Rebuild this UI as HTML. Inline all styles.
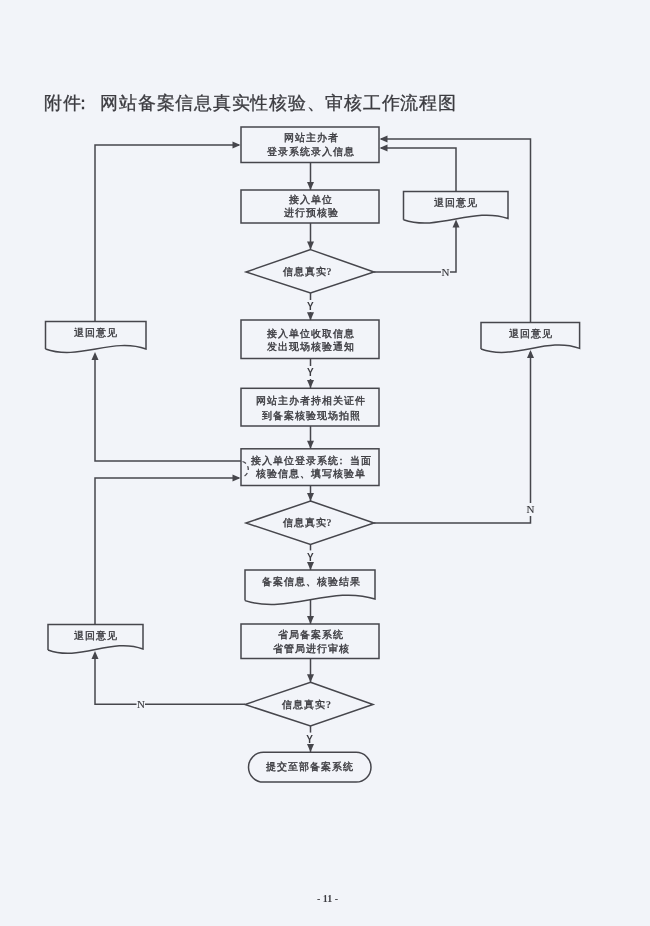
<!DOCTYPE html>
<html><head><meta charset="utf-8"><style>
html,body{margin:0;padding:0;background:#f2f4f9;}
body{width:650px;height:926px;overflow:hidden;position:relative;}
svg{position:absolute;left:0;top:0;}
.wrap{position:absolute;left:0;top:0;width:650px;height:926px;filter:blur(0.25px);}
.l{fill:none;stroke:#46464c;stroke-width:1.5;}
.a{fill:#46464c;stroke:none;}
.t{font-family:"Liberation Serif",serif;font-weight:normal;stroke:#3c3c41;stroke-width:0.4px;fill:#3c3c41;text-anchor:middle;}
.y{font-family:"Liberation Serif",serif;fill:#3c3c41;text-anchor:middle;dominant-baseline:central;}
.title{position:absolute;left:44px;top:90.5px;font-family:"Liberation Sans",sans-serif;font-size:18px;letter-spacing:0.75px;-webkit-text-stroke:0.3px #3c3c41;color:#3c3c41;white-space:nowrap;}
.yy{font-family:"Liberation Sans",sans-serif;font-size:10px;font-weight:bold;fill:#3c3c41;text-anchor:middle;}
.nn{font-family:"Liberation Serif",serif;font-size:11px;fill:#3c3c41;text-anchor:middle;stroke:#3c3c41;stroke-width:0.15px;}
.pg{position:absolute;left:2.5px;width:650px;top:893px;text-align:center;font-family:"Liberation Serif",serif;font-size:10px;font-weight:bold;color:#3c3c41;}
</style></head><body>
<div class="wrap">
<div class="title">附件<span style="position:relative;left:-8px">：</span>网站备案信息真实性核验、审核工作流程图</div>
<svg width="650" height="926" viewBox="0 0 650 926">
<rect x="241" y="127" width="138" height="35.5" class="l"/>
<text x="311.0" y="141.30" class="t" style="font-size:10px;letter-spacing:1px">网站主办者</text>
<text x="311.0" y="155.30" class="t" style="font-size:10px;letter-spacing:1px">登录系统录入信息</text>
<path d="M310.5,162.5 L310.5,190" class="l"/>
<path d="M310.5,190 L307.0,182 L314.0,182 Z" class="a"/>
<rect x="241" y="190" width="138" height="33" class="l"/>
<text x="311.0" y="202.90" class="t" style="font-size:10px;letter-spacing:1px">接入单位</text>
<text x="311.0" y="215.70" class="t" style="font-size:10px;letter-spacing:1px">进行预核验</text>
<path d="M310.5,223 L310.5,249.6" class="l"/>
<path d="M310.5,249.6 L307.0,241.6 L314.0,241.6 Z" class="a"/>
<path d="M310.5,249.6 L374,272 L310.5,293 L246,272 Z" class="l"/>
<text x="282.5" y="275.30" class="t" style="font-size:10px;letter-spacing:1px;text-anchor:start">信息真实<tspan style="font-family:Liberation Serif;font-weight:bold;stroke-width:0.1px">?</tspan></text>
<path d="M310.5,293 L310.5,300" class="l"/>
<text x="310.3" y="310.45" class="yy">Y</text>
<path d="M310.5,312 L310.5,320" class="l"/>
<path d="M310.5,320.3 L307.0,312.3 L314.0,312.3 Z" class="a"/>
<rect x="241" y="320" width="138" height="38.5" class="l"/>
<text x="311.0" y="336.70" class="t" style="font-size:10px;letter-spacing:1px">接入单位收取信息</text>
<text x="311.0" y="350.30" class="t" style="font-size:10px;letter-spacing:1px">发出现场核验通知</text>
<path d="M310.5,358.5 L310.5,366" class="l"/>
<text x="310.3" y="376.40" class="yy">Y</text>
<path d="M310.5,379 L310.5,388.3" class="l"/>
<path d="M310.5,388 L307.0,380 L314.0,380 Z" class="a"/>
<rect x="241" y="388.3" width="138" height="37.69999999999999" class="l"/>
<text x="311.0" y="403.90" class="t" style="font-size:10px;letter-spacing:1px">网站主办者持相关证件</text>
<text x="311.0" y="418.70" class="t" style="font-size:10px;letter-spacing:1px">到备案核验现场拍照</text>
<path d="M310.5,426 L310.5,448.8" class="l"/>
<path d="M310.5,448.8 L307.0,440.8 L314.0,440.8 Z" class="a"/>
<rect x="241" y="448.8" width="138" height="36.69999999999999" class="l"/>
<text x="311.0" y="463.80" class="t" style="font-size:10px;letter-spacing:1px">接入单位登录系统<tspan dx="-3">：</tspan><tspan dx="3">当面</tspan></text>
<text x="311.0" y="477.30" class="t" style="font-size:10px;letter-spacing:1px">核验信息、填写核验单</text>
<path d="M310.5,485.5 L310.5,501" class="l"/>
<path d="M310.5,501 L307.0,493 L314.0,493 Z" class="a"/>
<path d="M310.5,501 L374,523 L310.5,544.5 L246,523 Z" class="l"/>
<text x="282.5" y="526.30" class="t" style="font-size:10px;letter-spacing:1px;text-anchor:start">信息真实<tspan style="font-family:Liberation Serif;font-weight:bold;stroke-width:0.1px">?</tspan></text>
<path d="M310.5,544.5 L310.5,550.4" class="l"/>
<text x="310.3" y="560.70" class="yy">Y</text>
<path d="M310.5,563 L310.5,570" class="l"/>
<path d="M310.5,570 L307.0,562 L314.0,562 Z" class="a"/>
<path d="M245,600.6 V570 H375 V599 C331.6666666666667,585 288.3333333333333,614.6 245,600.6" class="l"/>
<text x="311.0" y="585.30" class="t" style="font-size:10px;letter-spacing:1px">备案信息、核验结果</text>
<path d="M310.5,599 L310.5,624" class="l"/>
<path d="M310.5,624 L307.0,616 L314.0,616 Z" class="a"/>
<rect x="241" y="624" width="138" height="34.5" class="l"/>
<text x="311.0" y="637.90" class="t" style="font-size:10px;letter-spacing:1px">省局备案系统</text>
<text x="311.0" y="651.90" class="t" style="font-size:10px;letter-spacing:1px">省管局进行审核</text>
<path d="M310.5,658.5 L310.5,682.3" class="l"/>
<path d="M310.5,682.3 L307.0,674.3 L314.0,674.3 Z" class="a"/>
<path d="M310.5,682.3 L373,704.5 L310.5,726 L245,704.5 Z" class="l"/>
<text x="282" y="707.80" class="t" style="font-size:10px;letter-spacing:1px;text-anchor:start">信息真实<tspan style="font-family:Liberation Serif;font-weight:bold;stroke-width:0.1px">?</tspan></text>
<path d="M310.5,726 L310.5,732.6" class="l"/>
<text x="309.5" y="742.80" class="yy">Y</text>
<path d="M310.5,745 L310.5,752" class="l"/>
<path d="M310.5,752 L307.0,744 L314.0,744 Z" class="a"/>
<rect x="248.5" y="752.3" width="122.5" height="29.8" rx="14.9" ry="14.9" class="l"/>
<text x="310.0" y="770.00" class="t" style="font-size:10px;letter-spacing:1px">提交至部备案系统</text>
<path d="M374,272 L441,272" class="l"/>
<text x="445.5" y="276.25" class="nn">N</text>
<path d="M450,272 L456,272 L456,222" class="l"/>
<path d="M456,219.5 L452.5,227.5 L459.5,227.5 Z" class="a"/>
<path d="M403.5,219.7 V191.4 H508 V218.5 C473.1666666666667,206.5 438.3333333333333,231.7 403.5,219.7" class="l"/>
<text x="455.5" y="206.30" class="t" style="font-size:10px;letter-spacing:1px">退回意见</text>
<path d="M456,191.4 L456,148 L381,148" class="l"/>
<path d="M379.5,148 L387.5,144.5 L387.5,151.5 Z" class="a"/>
<path d="M374,523 L530.5,523 L530.5,516" class="l"/>
<text x="530.6" y="512.65" class="nn">N</text>
<path d="M530.5,503 L530.5,352" class="l"/>
<path d="M530.5,350 L527.0,358 L534.0,358 Z" class="a"/>
<path d="M481,349 V322.4 H579.6 V348.4 C546.7333333333333,336.4 513.8666666666667,361 481,349" class="l"/>
<text x="530.5" y="336.90" class="t" style="font-size:10px;letter-spacing:1px">退回意见</text>
<path d="M530.5,322.4 L530.5,139 L381,139" class="l"/>
<path d="M379.5,139 L387.5,135.5 L387.5,142.5 Z" class="a"/>
<path d="M241,461 L95,461 L95,355" class="l"/>
<path d="M95,352 L91.5,360 L98.5,360 Z" class="a"/>
<path d="M45.5,349 V321.5 H146 V349 C112.5,337 79.0,361 45.5,349" class="l"/>
<text x="95.5" y="336.30" class="t" style="font-size:10px;letter-spacing:1px">退回意见</text>
<path d="M95,321.5 L95,145 L239,145" class="l"/>
<path d="M240.5,145 L232.5,141.5 L232.5,148.5 Z" class="a"/>
<path d="M245,704.3 L145,704.3" class="l"/>
<text x="140.9" y="707.65" class="nn">N</text>
<path d="M136.5,704.3 L95,704.3 L95,654" class="l"/>
<path d="M95,651 L91.5,659 L98.5,659 Z" class="a"/>
<path d="M48,650 V624.4 H143 V649 C111.33333333333333,637 79.66666666666667,662 48,650" class="l"/>
<text x="95.5" y="638.90" class="t" style="font-size:10px;letter-spacing:1px">退回意见</text>
<path d="M95,624.4 L95,478 L239,478" class="l"/>
<path d="M240.5,478 L232.5,474.5 L232.5,481.5 Z" class="a"/>
<path d="M242.5,461.5 A8,8 0 0 1 243.5,476.5" style="fill:none;stroke:#4a4a50;stroke-width:1.3;stroke-dasharray:4,3"/>
</svg>
<div class="pg">- 11 -</div>
</div>
</body></html>
